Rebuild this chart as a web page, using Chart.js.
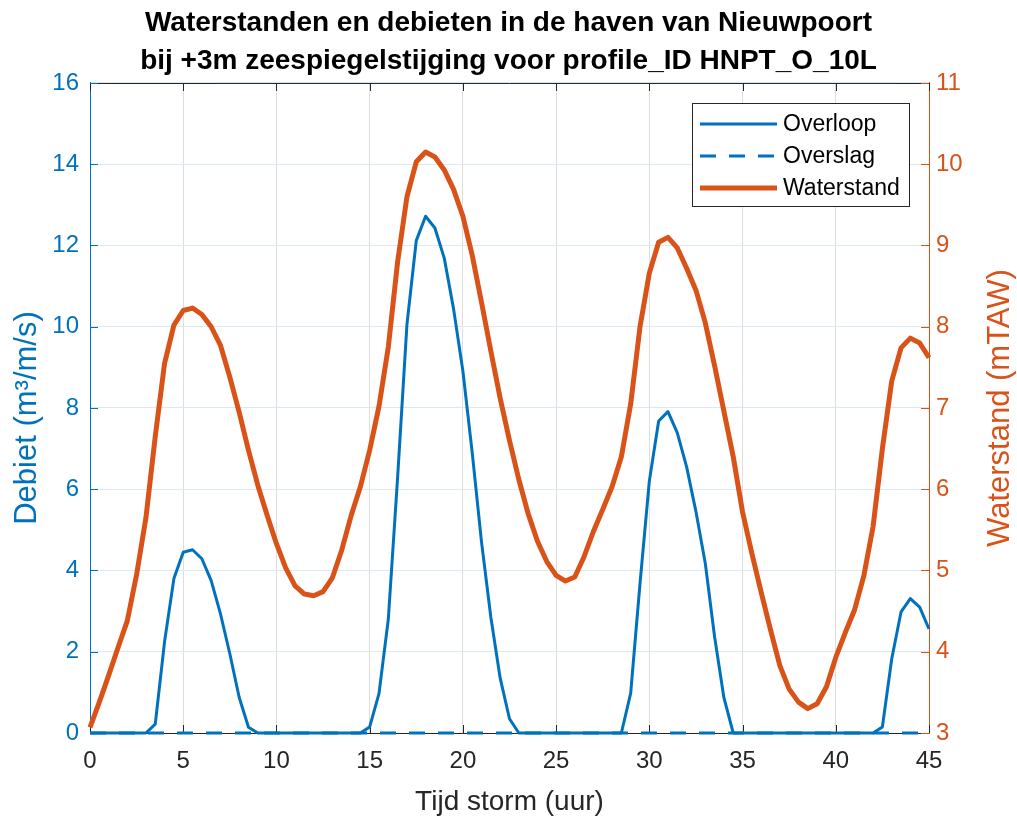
<!DOCTYPE html>
<html lang="nl">
<head>
<meta charset="utf-8">
<title>Waterstanden en debieten in de haven van Nieuwpoort</title>
<script src="https://cdn.jsdelivr.net/npm/chart.js@4.4.1/dist/chart.umd.min.js"></script>
<style>
  html, body { margin: 0; padding: 0; background: #ffffff; }
  canvas { display: block; }
</style>
</head>
<body>
<canvas id="chart" width="1017" height="817"></canvas>
<script>
// Tijdstappen van de storm (uur), om het half uur
const hours = [
  0, 0.5, 1, 1.5, 2, 2.5, 3, 3.5, 4, 4.5, 5, 5.5, 6, 6.5, 7, 7.5, 8, 8.5, 9, 9.5,
  10, 10.5, 11, 11.5, 12, 12.5, 13, 13.5, 14, 14.5, 15, 15.5, 16, 16.5, 17, 17.5, 18, 18.5, 19, 19.5,
  20, 20.5, 21, 21.5, 22, 22.5, 23, 23.5, 24, 24.5, 25, 25.5, 26, 26.5, 27, 27.5, 28, 28.5, 29, 29.5,
  30, 30.5, 31, 31.5, 32, 32.5, 33, 33.5, 34, 34.5, 35, 35.5, 36, 36.5, 37, 37.5, 38, 38.5, 39, 39.5,
  40, 40.5, 41, 41.5, 42, 42.5, 43, 43.5, 44, 44.5, 45
];

// Debiet door overloop (m³/m/s)
const overloop = [
  0, 0, 0, 0, 0, 0, 0, 0.22, 2.25, 3.8, 4.45, 4.51, 4.29, 3.75, 2.93, 1.95, 0.88, 0.14, 0, 0,
  0, 0, 0, 0, 0, 0, 0, 0, 0, 0, 0.15, 0.97, 2.8, 6.3, 10.06, 12.12, 12.72, 12.43, 11.69, 10.44,
  8.91, 6.9, 4.7, 2.85, 1.35, 0.35, 0, 0, 0, 0, 0, 0, 0, 0, 0, 0, 0, 0, 0.98, 3.68,
  6.2, 7.68, 7.91, 7.39, 6.55, 5.45, 4.18, 2.37, 0.87, 0, 0, 0, 0, 0, 0, 0, 0, 0, 0, 0,
  0, 0, 0, 0, 0, 0.15, 1.82, 2.98, 3.31, 3.1, 2.56
];

// Debiet door overslag (m³/m/s)
const overslag = [
  0, 0, 0, 0, 0, 0, 0, 0, 0, 0, 0, 0, 0, 0, 0, 0, 0, 0, 0, 0,
  0, 0, 0, 0, 0, 0, 0, 0, 0, 0, 0, 0, 0, 0, 0, 0, 0, 0, 0, 0,
  0, 0, 0, 0, 0, 0, 0, 0, 0, 0, 0, 0, 0, 0, 0, 0, 0, 0, 0, 0,
  0, 0, 0, 0, 0, 0, 0, 0, 0, 0, 0, 0, 0, 0, 0, 0, 0, 0, 0, 0,
  0, 0, 0, 0, 0, 0, 0, 0, 0, 0, 0
];

// Waterstand (mTAW)
const waterstand = [
  3.07, 3.38, 3.71, 4.05, 4.38, 4.95, 5.65, 6.65, 7.55, 8.02, 8.2, 8.23, 8.15, 8.0, 7.77, 7.38, 6.95, 6.48, 6.05, 5.68,
  5.33, 5.03, 4.81, 4.71, 4.69, 4.74, 4.91, 5.25, 5.67, 6.03, 6.48, 7.02, 7.75, 8.8, 9.6, 10.03, 10.15, 10.09, 9.93, 9.69,
  9.36, 8.88, 8.3, 7.7, 7.12, 6.6, 6.12, 5.7, 5.36, 5.11, 4.94, 4.87, 4.92, 5.17, 5.48, 5.75, 6.03, 6.4, 7.05, 8.0,
  8.66, 9.04, 9.1, 8.97, 8.72, 8.45, 8.05, 7.52, 6.96, 6.4, 5.72, 5.21, 4.73, 4.27, 3.83, 3.54, 3.38, 3.3, 3.36, 3.57,
  3.93, 4.23, 4.51, 4.93, 5.54, 6.5, 7.33, 7.74, 7.86, 7.8, 7.62
];

// Aswaarden
const timeTicks = [0, 5, 10, 15, 20, 25, 30, 35, 40, 45];
const debietTicks = [0, 2, 4, 6, 8, 10, 12, 14, 16];
const waterstandTicks = [3, 4, 5, 6, 7, 8, 9, 10, 11];

const BLUE = '#0072BD';
const ORANGE = '#D95319';
const DARK = '#262626';
const FONT = "'Liberation Sans', Arial, Helvetica, sans-serif";

const tickFont = { family: FONT, size: 24 };

// Kader bovenaan, tickstreepjes naar binnen, legende en astitels
const framePlugin = {
  id: 'frame',
  beforeDraw(chart) {
    const { ctx, width, height } = chart;
    ctx.save();
    ctx.fillStyle = '#ffffff';
    ctx.fillRect(0, 0, width, height);
    ctx.restore();
  },
  beforeDatasetsDraw(chart) {
    const { ctx, chartArea: a, scales } = chart;
    const len = 8;
    const seg = (x1, y1, x2, y2) => { ctx.beginPath(); ctx.moveTo(x1, y1); ctx.lineTo(x2, y2); ctx.stroke(); };
    ctx.save();
    ctx.lineWidth = 1;
    ctx.strokeStyle = DARK;
    seg(a.left, a.top + 0.5, a.right, a.top + 0.5);
    scales.x.ticks.forEach(t => {
      const px = Math.round(scales.x.getPixelForValue(t.value)) + 0.5;
      seg(px, a.bottom, px, a.bottom - len);
      seg(px, a.top, px, a.top + len);
    });
    ctx.strokeStyle = BLUE;
    scales.yL.ticks.forEach(t => {
      const py = Math.round(scales.yL.getPixelForValue(t.value)) + 0.5;
      seg(a.left, py, a.left + len, py);
    });
    ctx.strokeStyle = ORANGE;
    scales.yR.ticks.forEach(t => {
      const py = Math.round(scales.yR.getPixelForValue(t.value)) + 0.5;
      seg(a.right, py, a.right - len, py);
    });
    ctx.restore();
  },
  afterDraw(chart) {
    const { ctx, chartArea: a } = chart;
    const midY = (a.top + a.bottom) / 2;

    // astitels, van onder naar boven gelezen
    const vertical = (text, x, y, color) => {
      ctx.save();
      ctx.translate(x, y);
      ctx.rotate(-Math.PI / 2);
      ctx.fillStyle = color;
      ctx.font = `31px ${FONT}`;
      ctx.textAlign = 'center';
      ctx.textBaseline = 'middle';
      ctx.fillText(text, 0, 0);
      ctx.restore();
    };
    vertical('Debiet (m³/m/s)', 27, midY + 10, BLUE);
    vertical('Waterstand (mTAW)', 1000, midY, ORANGE);

    // legende
    const box = { x: 692.5, y: 103.5, w: 217, h: 103 };
    ctx.save();
    ctx.fillStyle = '#ffffff';
    ctx.fillRect(box.x, box.y, box.w, box.h);
    ctx.strokeStyle = DARK;
    ctx.lineWidth = 1;
    ctx.strokeRect(box.x, box.y, box.w, box.h);
    const rows = [124, 156, 188];
    chart.data.datasets.forEach((ds, i) => {
      const y = rows[i];
      ctx.beginPath();
      ctx.strokeStyle = ds.borderColor;
      ctx.lineWidth = ds.borderWidth;
      ctx.setLineDash(ds.borderDash || []);
      ctx.moveTo(700, y);
      ctx.lineTo(777, y);
      ctx.stroke();
      ctx.setLineDash([]);
      ctx.fillStyle = '#000000';
      ctx.font = `23px ${FONT}`;
      ctx.textAlign = 'left';
      ctx.textBaseline = 'middle';
      ctx.fillText(ds.label, 783, y + 1);
    });
    ctx.restore();
  }
};

new Chart(document.getElementById('chart'), {
  type: 'line',
  data: {
    labels: hours,
    datasets: [
      {
        label: 'Overloop',
        data: overloop,
        yAxisID: 'yL',
        borderColor: BLUE,
        borderWidth: 3,
        pointRadius: 0,
        tension: 0,
        borderJoinStyle: 'round',
        clip: 4
      },
      {
        label: 'Overslag',
        data: overslag,
        yAxisID: 'yL',
        borderColor: BLUE,
        borderWidth: 3,
        borderDash: [16, 13],
        pointRadius: 0,
        tension: 0,
        clip: 4
      },
      {
        label: 'Waterstand',
        data: waterstand,
        yAxisID: 'yR',
        borderColor: ORANGE,
        borderWidth: 5,
        pointRadius: 0,
        tension: 0,
        borderJoinStyle: 'round',
        clip: 4
      }
    ]
  },
  options: {
    responsive: false,
    devicePixelRatio: 1,
    animation: false,
    layout: { padding: 0 },
    plugins: {
      legend: { display: false },
      tooltip: { enabled: false },
      title: {
        display: true,
        text: [
          'Waterstanden en debieten in de haven van Nieuwpoort',
          'bij +3m zeespiegelstijging voor profile_ID HNPT_O_10L'
        ],
        color: '#000000',
        font: { family: FONT, size: 28, weight: 'bold', lineHeight: 1.357 },
        padding: { top: 4, bottom: 3 }
      }
    },
    scales: {
      x: {
        type: 'linear',
        min: 0,
        max: 45,
        afterBuildTicks: s => { s.ticks = timeTicks.map(v => ({ value: v })); },
        afterFit: s => { s.height = 84; },
        grid: { color: '#dedede', drawTicks: false },
        border: { color: DARK, width: 1 },
        ticks: { color: DARK, font: tickFont, padding: 14, maxRotation: 0 },
        title: {
          display: true,
          text: 'Tijd storm (uur)',
          color: DARK,
          font: { family: FONT, size: 28, lineHeight: 1 },
          padding: { top: 0, bottom: 1 }
        }
      },
      yL: {
        type: 'linear',
        position: 'left',
        min: 0,
        max: 16,
        afterBuildTicks: s => { s.ticks = debietTicks.map(v => ({ value: v })); },
        afterFit: s => { s.width = 90; },
        grid: { color: '#d9eaf5', drawTicks: false },
        border: { color: BLUE, width: 1 },
        ticks: { color: BLUE, font: tickFont, padding: 11 }
      },
      yR: {
        type: 'linear',
        position: 'right',
        min: 3,
        max: 11,
        afterBuildTicks: s => { s.ticks = waterstandTicks.map(v => ({ value: v })); },
        afterFit: s => { s.width = 88; },
        grid: { display: false, drawTicks: false },
        border: { color: ORANGE, width: 1 },
        ticks: { color: ORANGE, font: tickFont, padding: 7 }
      }
    }
  },
  plugins: [framePlugin]
});
</script>
</body>
</html>
